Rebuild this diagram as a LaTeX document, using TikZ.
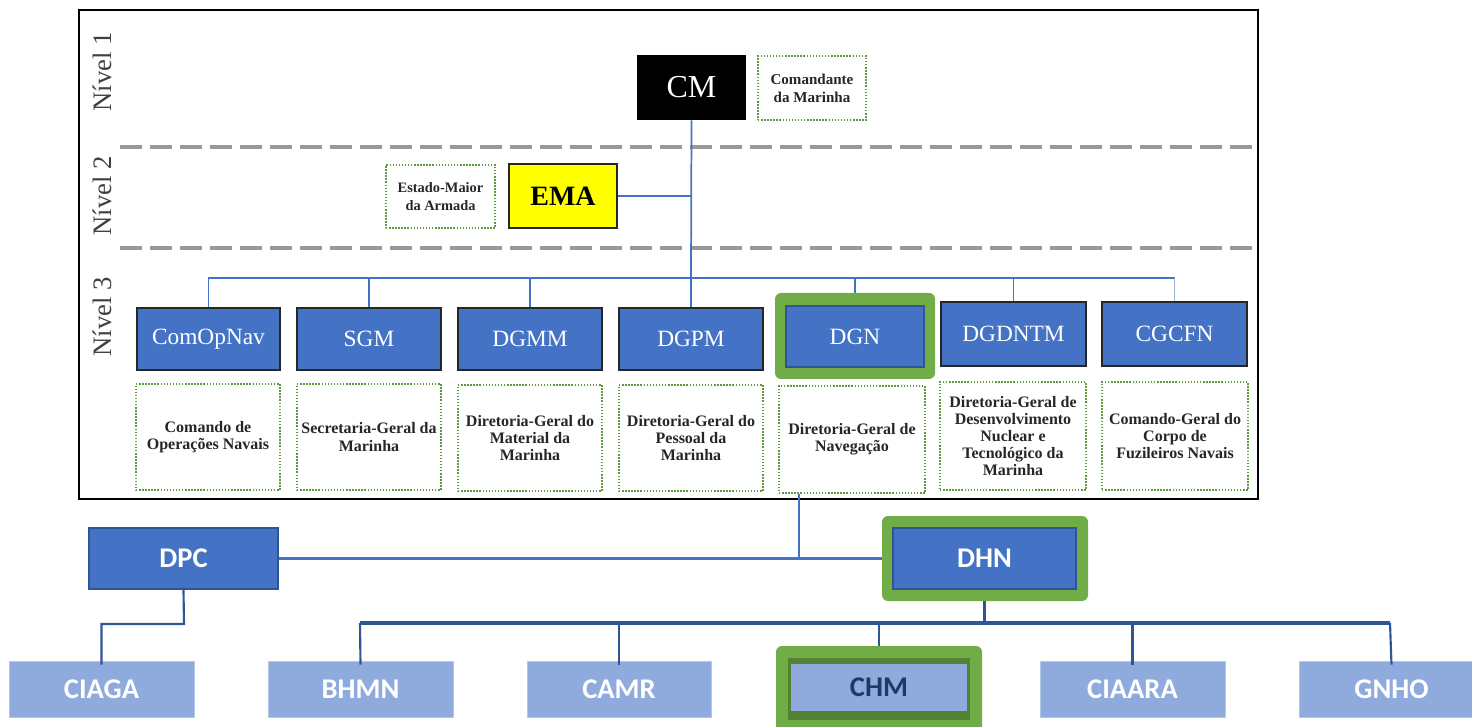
\documentclass[tikz,border=0pt]{standalone}
\usepackage{fontspec}
\setmainfont{Liberation Serif}
\newfontfamily\calfont{Carlito}
\definecolor{blueA}{HTML}{4472C4}
\definecolor{blueD}{HTML}{2F5597}
\definecolor{blueL}{HTML}{8FAADC}
\definecolor{blueLB}{HTML}{B4C7E7}
\definecolor{greenA}{HTML}{70AD47}
\definecolor{greenD}{HTML}{548235}
\definecolor{greenDot}{HTML}{5E9A3C}
\definecolor{navyT}{HTML}{203864}
\definecolor{yellowA}{HTML}{FFFF00}
\tikzset{
  px/.style={x=0.75pt,y=-0.75pt},
  lvl/.style={rotate=90, text=black!75, font=\fontsize{20}{22}\selectfont, inner sep=0pt},
  l3box/.style={fill=blueA, draw=black!85, line width=1.5pt, text=white, font=\fontsize{17.5}{20}\selectfont, inner sep=0pt},
  descbox/.style={draw=greenDot, line width=1.4pt, dash pattern=on 1.1pt off 1.2pt, align=center, text=black!85, font=\bfseries\fontsize{12}{12.9}\selectfont, inner sep=0pt},
  greenframe/.style={fill=greenA, rounded corners=4.5pt, inner sep=0pt},
  topline/.style={draw=blueA, line width=1.3pt},
  dpcbox/.style={fill=blueA, draw=blueD, line width=1.5pt, text=white, font=\calfont\bfseries\fontsize{21.4}{24}\selectfont, inner sep=0pt},
  lightbox/.style={fill=blueL, draw=blueLB, line width=0.6pt, text=white, font=\calfont\bfseries\fontsize{21.4}{24}\selectfont, inner sep=0pt},
  botline/.style={draw=blueD, line width=1.6pt},
  busline/.style={draw=blueD, line width=2.3pt},
  sepline/.style={draw=black!40, line width=2.5pt, dash pattern=on 16.3pt off 6.2pt},
}
% \bx[style]{name}{x1}{y1}{x2}{y2} {text};
\newcommand\bx[6][]{\node[#1, minimum width={(#5-#3)*0.75pt}, minimum height={(#6-#4)*0.75pt}] (#2) at ({(#3+#5)/2},{(#4+#6)/2})}
\begin{document}
\begin{tikzpicture}[px]
\useasboundingbox (0,0) rectangle (1472,727);
% frame
\draw[line width=1.5pt] (79,10) rectangle (1258,499);
% level separators
\draw[sepline] (120,147) -- (1257,147);
\draw[sepline] (120,248) -- (1257,248);
% level labels
\node[lvl] (n1) at (102,72) {Nível 1};
\node[lvl] (n2) at (102,196) {Nível 2};
\node[lvl] (n3) at (102,317) {Nível 3};
% level 1
\bx[fill=black, text=white, inner sep=0pt, font=\fontsize{24}{26}\selectfont]{cm}{637}{55}{746}{120} {CM};
\bx[descbox, font=\bfseries\fontsize{11.3}{13.5}\selectfont]{cmd}{758}{56}{866}{120} {Comandante\\da Marinha};
% level 2
\bx[fill=yellowA, draw=black!85, line width=1.5pt, inner sep=0pt, font=\bfseries\fontsize{21}{24}\selectfont]{ema}{509}{164}{617}{228} {EMA};
\bx[descbox, font=\bfseries\fontsize{10.8}{13.2}\selectfont]{emad}{386}{165}{495}{228} {Estado-Maior\\da Armada};
% level 3 boxes
\bx[l3box]{comopnav}{137}{308}{280}{370} {ComOpNav};
\bx[l3box]{sgm}{297}{308}{441}{370} {SGM};
\bx[l3box]{dgmm}{458}{308}{602}{370} {DGMM};
\bx[l3box]{dgpm}{619}{308}{763}{370} {DGPM};
\bx[greenframe]{dgng}{775}{293}{935}{379} {};
\bx[l3box, draw=blueD, line width=1pt]{dgn}{786}{306}{924}{367} {DGN};
\bx[l3box]{dgdntm}{941}{302}{1086}{366} {DGDNTM};
\bx[l3box]{cgcfn}{1102}{302}{1247}{366} {CGCFN};
% descriptions
\bx[descbox]{d1}{136}{384}{280}{490} {Comando de\\Operações Navais};
\bx[descbox]{d2}{297}{384}{441}{490} {Secretaria-Geral da\\Marinha};
\bx[descbox]{d3}{458}{385}{602}{491} {Diretoria-Geral do\\Material da\\Marinha};
\bx[descbox]{d4}{619}{385}{763}{491} {Diretoria-Geral do\\Pessoal da\\Marinha};
\bx[descbox]{d5}{779}{386}{925}{493} {Diretoria-Geral de\\Navegação};
\bx[descbox]{d6}{940}{382}{1086}{490} {Diretoria-Geral de\\Desenvolvimento\\Nuclear e\\Tecnológico da\\Marinha};
\bx[descbox]{d7}{1102}{382}{1248}{490} {Comando-Geral do\\Corpo de\\Fuzileiros Navais};
% top connectors
\coordinate (busL) at (208,278);
\coordinate (busR) at (1175,278);
\coordinate (busM) at (691,278);
\draw[topline] (cm.south) -- (busM);
\draw[topline] (ema.east) -- (ema.east -| busM);
\draw[topline] (busL) -- (busR);
\draw[topline] (comopnav.north |- busL) -- (comopnav.north);
\draw[topline] (sgm.north |- busL) -- (sgm.north);
\draw[topline] (dgmm.north |- busL) -- (dgmm.north);
\draw[topline] (dgpm.north |- busL) -- (dgpm.north);
\draw[topline] (dgng.north |- busL) -- (dgng.north);
\draw[topline] (dgdntm.north |- busL) -- (dgdntm.north);
\draw[topline, draw=blueA!55] (cgcfn.north |- busL) -- (cgcfn.north);
% bottom part
\bx[dpcbox]{dpc}{89}{528}{278}{589} {DPC};
\bx[greenframe]{dhng}{882}{516}{1088}{601} {};
\bx[dpcbox]{dhn}{893}{528}{1076}{589} {DHN};
\coordinate (j) at (799,558);
\draw[topline, line width=1.5pt] (d5.south -| j) -- (j);
\draw[topline, line width=1.8pt] (dpc.east) -- (dhng.west);
% bottom row
\bx[lightbox]{ciaga}{9}{661}{194}{717} {CIAGA};
\bx[lightbox]{bhmn}{268}{661}{453}{717} {BHMN};
\bx[lightbox]{camr}{527}{661}{711}{717} {CAMR};
\bx[greenframe]{chmg}{776}{646}{982}{745} {};
\bx[fill=greenD, inner sep=0pt]{chmd}{788}{658}{970}{720} {};
\bx[lightbox, draw=none, text=navyT]{chm}{791}{664}{967}{711} {CHM};
\bx[lightbox]{ciaara}{1040}{661}{1225}{717} {CIAARA};
\bx[lightbox]{gnho}{1299}{661}{1484}{717} {GNHO};
% DPC branch
\coordinate (dpcb) at (184,624);
\draw[botline] (dpc.south) -- (dpcb) -- (dpcb -| ciaga.north) -- ([yshift=-3pt]ciaga.north);
% DHN bus
\coordinate (bl) at (360,623);
\coordinate (br) at (1390,623);
\draw[busline] (dhng.south -| dhn.south) -- (dhn.south |- bl);
\draw[busline] (bl) -- (br);
\draw[botline] (bl) -- ([yshift=-3pt]bhmn.north);
\draw[botline] (camr.north |- bl) -- ([yshift=-3pt]camr.north);
\draw[botline] (chmg.north |- bl) -- (chmg.north);
\draw[botline] (ciaara.north |- bl) -- ([yshift=-3pt]ciaara.north);
\draw[botline] (br) -- ([yshift=-3pt]gnho.north);
\end{tikzpicture}
\end{document}
